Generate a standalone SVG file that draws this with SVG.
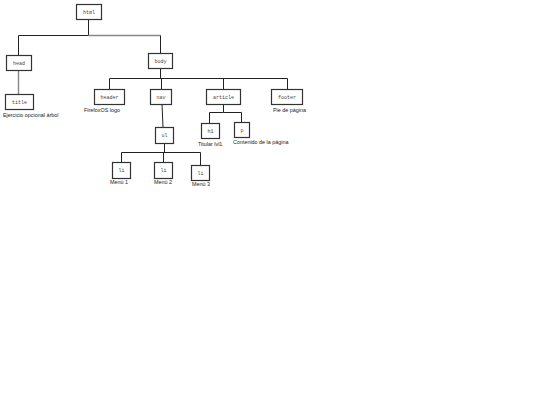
<svg xmlns="http://www.w3.org/2000/svg" width="540" height="405" viewBox="0 0 540 405">
<style>
.box{fill:#fff;stroke:#333;stroke-width:1.2}
.tag{font-family:"Liberation Mono",monospace;font-size:5px;fill:#444;text-anchor:middle}
.lbl{font-family:"Liberation Sans",sans-serif;font-size:5.4px;fill:#222}
.c{fill:none;stroke:#222;stroke-width:1}
.g{fill:none;stroke:#888;stroke-width:1.4}
</style>
<rect width="540" height="405" fill="#fff"/>
<g id="connectors">
<path class="c" d="M88.5,19 V35.5 H18.5 V55"/>
<path class="g" d="M88.5,35.5 H160.5"/>
<path class="c" d="M160.5,35.5 V53"/>
<path class="g" d="M18.5,70 V94"/>
<path class="c" d="M160.5,68 V78.5 M109.5,89 V78.5 H287.5 V89 M161.5,78.5 V89 M223.5,78.5 V89"/>
<path class="c" d="M162,104 L163,127"/>
<path class="c" d="M164.5,143 V152.5 M121.5,162 V152.5 H200.5 V165 M163.5,152.5 V162"/>
<path class="c" d="M223.5,104 V112.5 H209.5 V123 M223.5,112.5 H241.5 V122"/>
</g>
<g id="html"><rect class="box" x="76.5" y="4.5" width="25" height="15"/><text class="tag" x="89" y="13.5">html</text></g>
<g id="head"><rect class="box" x="6.5" y="55.5" width="25" height="15"/><text class="tag" x="19" y="64.5">head</text></g>
<g id="title"><rect class="box" x="5.5" y="94.5" width="28" height="15"/><text class="tag" x="19.5" y="103.5">title</text><text class="lbl" x="3" y="116.5">Ejercicio opcional árbol</text></g>
<g id="body"><rect class="box" x="148.5" y="53.5" width="24" height="15"/><text class="tag" x="160.5" y="62.5">body</text></g>
<g id="header"><rect class="box" x="94.5" y="89.5" width="30" height="15"/><text class="tag" x="109.5" y="98.5">header</text><text class="lbl" x="84" y="111.5">FirefoxOS logo</text></g>
<g id="nav"><rect class="box" x="150.5" y="89.5" width="21" height="15"/><text class="tag" x="161" y="98.5">nav</text></g>
<g id="article"><rect class="box" x="206.5" y="89.5" width="34" height="15"/><text class="tag" x="223.5" y="98.5">article</text></g>
<g id="footer"><rect class="box" x="271.5" y="89.5" width="31" height="15"/><text class="tag" x="287" y="98.5">footer</text><text class="lbl" x="273" y="111.5">Pie de página</text></g>
<g id="ul"><rect class="box" x="155.5" y="127.5" width="18" height="16"/><text class="tag" x="164.5" y="137">ul</text></g>
<g id="h1"><rect class="box" x="201.5" y="123.5" width="18" height="15"/><text class="tag" x="210.5" y="132.5">h1</text><text class="lbl" x="198" y="145.5">Titular lvl1</text></g>
<g id="p"><rect class="box" x="234.5" y="122.5" width="15" height="15"/><text class="tag" x="242" y="131.5">p</text><text class="lbl" x="233" y="143.5">Contenido de la página</text></g>
<g id="li1"><rect class="box" x="112.5" y="162.5" width="18" height="16"/><text class="tag" x="121.5" y="172">li</text><text class="lbl" x="110" y="184">Menú 1</text></g>
<g id="li2"><rect class="box" x="154.5" y="162.5" width="18" height="16"/><text class="tag" x="163.5" y="172">li</text><text class="lbl" x="154" y="184">Menú 2</text></g>
<g id="li3"><rect class="box" x="191.5" y="165.5" width="18" height="15"/><text class="tag" x="200.5" y="174.5">li</text><text class="lbl" x="192" y="186">Menú 3</text></g>
</svg>
